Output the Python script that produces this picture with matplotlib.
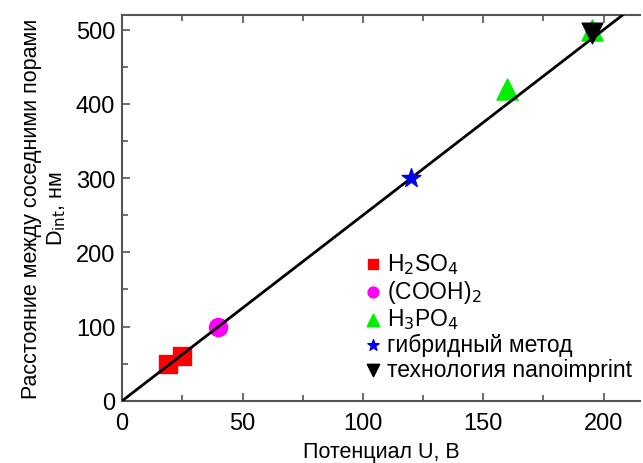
import numpy as np
import matplotlib
matplotlib.use('Agg')
import matplotlib.pyplot as plt

plt.rcParams['font.family'] = ['Liberation Sans', 'DejaVu Sans']

# данные
h2so4_u = [19, 25]
h2so4_d = [50, 60]
cooh_u = [40]
cooh_d = [100]
h3po4_u = [160, 195]
h3po4_d = [420, 500]
hybrid_u = [120]
hybrid_d = [300]
nano_u = [195]
nano_d = [495]
fit_u = [0, 215]
fit_k = 2.5

fig = plt.figure(figsize=(6.43, 4.64), dpi=100)
ax = fig.add_axes([0.19, 0.134, 0.805, 0.832])

ax.plot(fit_u, [fit_k * u for u in fit_u], color='black', lw=2, zorder=3)
ax.scatter(h2so4_u, h2so4_d, marker='s', s=160, color='#ff0000', label='H$_2$SO$_4$', zorder=2)
ax.scatter(cooh_u, cooh_d, marker='o', s=170, color='#ff00ff', label='(COOH)$_2$', zorder=2)
ax.scatter(h3po4_u, h3po4_d, marker='^', s=230, color='#00ee00', label='H$_3$PO$_4$', zorder=2)
ax.scatter(hybrid_u, hybrid_d, marker='*', s=200, color='#0000ee', label='гибридный метод', zorder=4)
ax.scatter(nano_u, nano_d, marker='v', s=220, color='black', label='технология nanoimprint', zorder=4)

ax.set_xlim(0, 215)
ax.set_ylim(0, 520)
ax.set_xticks([0, 50, 100, 150, 200])
ax.set_yticks([0, 100, 200, 300, 400, 500])
ax.set_xticks(np.arange(25, 215, 50), minor=True)
ax.set_yticks(np.arange(50, 520, 100), minor=True)
ax.tick_params(which='both', direction='in', top=True, labelsize=17, width=1.2, color='#555555')
ax.tick_params(which='major', length=6)
ax.tick_params(axis='x', which='major', pad=8)
ax.tick_params(axis='y', which='major', pad=5)
ax.tick_params(which='minor', length=4)
for s in ['left', 'bottom', 'top']:
    ax.spines[s].set_color('#555555')
    ax.spines[s].set_linewidth(1.5)
ax.spines['right'].set_visible(False)

ax.set_xlabel('Потенциал U, В', fontsize=15.5, labelpad=5)
ax.set_ylabel('Расстояние между соседними порами\nD$_\\mathrm{int}$, нм', fontsize=15.5,
              labelpad=6, linespacing=1.2)

ax.legend(loc='lower left', bbox_to_anchor=(0.435, 0.015), frameon=False, fontsize=16.5,
          handletextpad=0.15, labelspacing=0.08, markerscale=0.6, borderaxespad=0.2,
          handlelength=1.0)

fig.savefig('out.png', dpi=100)
